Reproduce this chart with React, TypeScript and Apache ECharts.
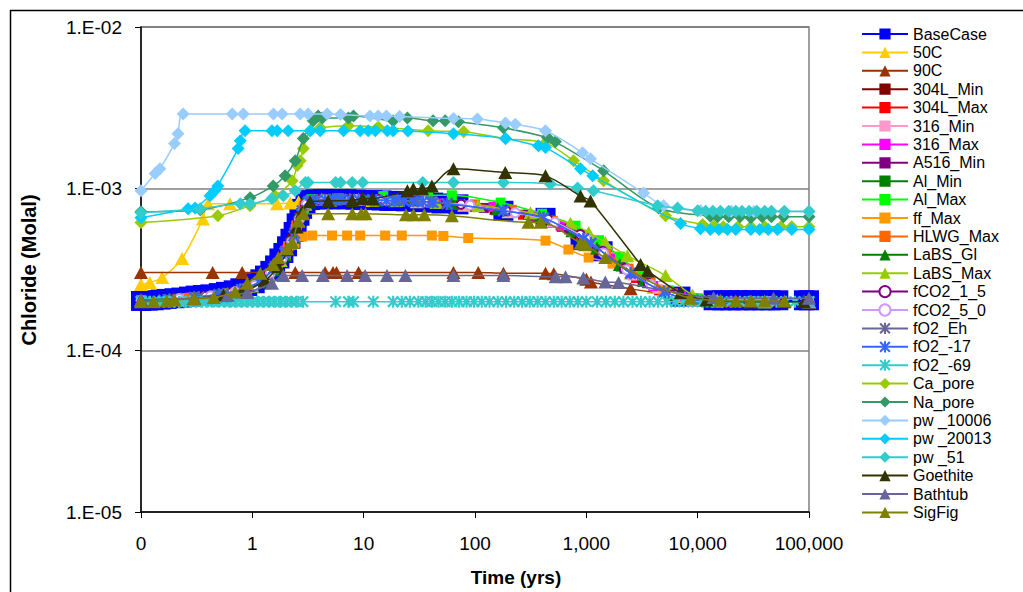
import React, { useEffect, useRef } from 'react';
import * as echarts from 'echarts';

type Pt = [number, number];

const xTickLabels = ['0', '1', '10', '100', '1,000', '10,000', '100,000'];
const yTickLabels = ['1.E-05', '1.E-04', '1.E-03', '1.E-02'];

const seriesNames = [
  'BaseCase', '50C', '90C', '304L_Min', '304L_Max', '316_Min', '316_Max', 'A516_Min',
  'Al_Min', 'Al_Max', 'ff_Max', 'HLWG_Max', 'LaBS_Gl', 'LaBS_Max', 'fCO2_1_5', 'fCO2_5_0',
  'fO2_Eh', 'fO2_-17', 'fO2_-69', 'Ca_pore', 'Na_pore', 'pw _10006', 'pw _20013', 'pw _51',
  'Goethite', 'Bathtub', 'SigFig',
];

const baseCase: Pt[] = [
  [0.1, 2.02e-4], [0.115, 2.03e-4], [0.13, 2.04e-4], [0.15, 2.06e-4], [0.17, 2.08e-4], [0.2, 2.1e-4],
  [0.23, 2.12e-4], [0.27, 2.15e-4], [0.31, 2.18e-4], [0.36, 2.2e-4], [0.42, 2.22e-4], [0.5, 2.26e-4],
  [0.58, 2.3e-4], [0.68, 2.35e-4], [0.78, 2.42e-4], [0.9, 2.5e-4], [1.05, 2.6e-4], [1.18, 2.75e-4],
  [1.3, 2.9e-4], [1.45, 3.1e-4], [1.6, 3.35e-4], [1.75, 3.7e-4], [1.9, 4.0e-4], [2.05, 4.4e-4],
  [2.2, 4.9e-4], [2.35, 5.4e-4], [2.5, 6.1e-4], [2.65, 6.8e-4], [2.8, 7.5e-4], [3.0, 8.1e-4],
  [3.3, 8.5e-4], [3.7, 8.6e-4], [4.3, 8.6e-4], [5, 8.6e-4], [6, 8.6e-4], [7, 8.6e-4], [8.5, 8.55e-4],
  [10, 8.5e-4], [12, 8.5e-4], [14.5, 8.45e-4], [17, 8.4e-4], [20, 8.4e-4], [24, 8.35e-4], [29, 8.3e-4],
  [35, 8.25e-4], [42, 8.2e-4], [50, 8.1e-4], [71, 8.0e-4], [180, 7.3e-4], [430, 6.6e-4], [887, 4.8e-4],
  [1400, 4.1e-4], [7000, 2.15e-4], [13900, 2.04e-4], [16500, 2.04e-4], [19500, 2.04e-4], [23000, 2.04e-4],
  [27000, 2.04e-4], [32000, 2.04e-4], [38000, 2.04e-4], [45000, 2.04e-4], [53000, 2.04e-4],
  [90000, 2.04e-4], [100000, 2.04e-4],
];

const c50: Pt[] = [
  [0.1, 2.55e-4], [0.12, 2.63e-4], [0.155, 2.82e-4], [0.234, 3.7e-4], [0.36, 6.5e-4], [0.4, 8.07e-4],
  [0.63, 8.07e-4], [1.67, 8.07e-4], [2.19, 8.15e-4], [2.6, 8.3e-4], [5, 8.5e-4], [12, 8.45e-4],
  [30, 8.3e-4], [80, 7.9e-4], [200, 7.2e-4], [500, 6.3e-4], [1000, 4.9e-4], [1600, 3.8e-4],
  [2500, 3.0e-4], [4000, 2.45e-4], [7000, 2.15e-4], [15000, 2.02e-4], [40000, 2.0e-4], [100000, 2.0e-4],
];

const c90: Pt[] = [
  [0.1, 3.03e-4], [0.44, 3.03e-4], [0.81, 3.03e-4], [2.43, 3.03e-4], [4.5, 3.03e-4], [5.3, 3.03e-4],
  [5.7, 3.03e-4], [9, 3.03e-4], [64, 3.03e-4], [107, 3.03e-4], [180, 3.0e-4], [430, 3.0e-4],
  [510, 2.98e-4], [1000, 2.75e-4], [1100, 2.65e-4], [2500, 2.4e-4], [5700, 2.2e-4], [10000, 2.05e-4],
  [30000, 2.0e-4], [100000, 2.0e-4],
];

const s304LMin: Pt[] = [
  [0.1, 2.02e-4], [0.25, 2.1e-4], [0.5, 2.2e-4], [0.8, 2.35e-4], [1.1, 2.6e-4], [1.5, 3.1e-4],
  [1.9, 3.8e-4], [2.3, 4.9e-4], [2.7, 6.8e-4], [3.2, 8.3e-4], [6, 8.6e-4], [12, 8.5e-4], [25, 8.4e-4],
  [60, 8.0e-4], [150, 7.4e-4], [350, 6.7e-4], [800, 5.2e-4], [1300, 4.1e-4], [1950, 3.5e-4],
  [3000, 2.8e-4], [5000, 2.3e-4], [9000, 2.1e-4], [20000, 2.0e-4], [50000, 2.0e-4], [100000, 2.0e-4],
];

const s304LMax: Pt[] = [
  [0.1, 2.05e-4], [0.3, 2.12e-4], [0.6, 2.25e-4], [1.0, 2.5e-4], [1.4, 2.95e-4], [1.8, 3.6e-4],
  [2.2, 4.6e-4], [2.6, 6.3e-4], [3.0, 8.0e-4], [4, 8.6e-4], [8, 8.6e-4], [18, 8.45e-4], [40, 8.2e-4],
  [100, 7.7e-4], [270, 6.9e-4], [600, 5.8e-4], [1100, 4.6e-4], [1800, 3.6e-4], [2800, 2.8e-4],
  [4500, 2.35e-4], [8000, 2.1e-4], [25000, 2.0e-4], [100000, 2.0e-4],
];

const s316Min: Pt[] = [
  [0.1, 2.03e-4], [0.22, 2.08e-4], [0.45, 2.18e-4], [0.75, 2.32e-4], [1.15, 2.65e-4], [1.6, 3.25e-4],
  [2.0, 4.1e-4], [2.45, 5.6e-4], [2.85, 7.4e-4], [3.5, 8.5e-4], [7, 8.6e-4], [15, 8.5e-4], [35, 8.25e-4],
  [80, 7.85e-4], [200, 7.2e-4], [500, 6.2e-4], [1000, 4.8e-4], [1600, 3.8e-4], [2600, 2.9e-4],
  [4360, 2.4e-4], [7000, 2.15e-4], [15000, 2.0e-4], [40000, 2.0e-4], [100000, 2.0e-4],
];

const s316Max: Pt[] = [
  [0.1, 2.04e-4], [0.28, 2.12e-4], [0.55, 2.22e-4], [0.9, 2.42e-4], [1.25, 2.75e-4], [1.65, 3.35e-4],
  [2.05, 4.2e-4], [2.5, 5.9e-4], [2.9, 7.6e-4], [3.6, 8.5e-4], [9, 8.6e-4], [20, 8.4e-4], [50, 8.1e-4],
  [147, 7.7e-4], [350, 6.8e-4], [587, 5.9e-4], [1100, 4.7e-4], [1700, 3.7e-4], [2500, 3.0e-4],
  [4000, 2.5e-4], [7000, 2.15e-4], [20000, 2.0e-4], [100000, 2.0e-4],
];

const a516Min: Pt[] = [
  [0.1, 2.02e-4], [0.32, 2.13e-4], [0.65, 2.27e-4], [1.0, 2.48e-4], [1.35, 2.85e-4], [1.75, 3.5e-4],
  [2.15, 4.4e-4], [2.55, 6.0e-4], [2.95, 7.8e-4], [4.5, 8.6e-4], [10, 8.55e-4], [22, 8.4e-4],
  [55, 8.05e-4], [120, 7.6e-4], [300, 6.9e-4], [700, 5.6e-4], [1200, 4.4e-4], [2040, 3.3e-4],
  [3200, 2.7e-4], [5500, 2.25e-4], [10000, 2.05e-4], [30000, 2.0e-4], [100000, 2.0e-4],
];

const alMin: Pt[] = [
  [0.1, 2.03e-4], [0.2, 2.08e-4], [0.4, 2.17e-4], [0.7, 2.3e-4], [1.05, 2.55e-4], [1.45, 3.0e-4],
  [1.85, 3.7e-4], [2.25, 4.7e-4], [2.65, 6.6e-4], [3.1, 8.2e-4], [5, 8.6e-4], [11, 8.5e-4], [28, 8.4e-4],
  [70, 8.0e-4], [210, 7.3e-4], [480, 6.4e-4], [900, 5.0e-4], [1400, 4.1e-4], [2200, 3.2e-4],
  [3500, 2.6e-4], [6000, 2.2e-4], [12000, 2.02e-4], [35000, 2.0e-4], [100000, 2.0e-4],
];

const alMax: Pt[] = [
  [0.1, 2.05e-4], [0.3, 2.12e-4], [0.6, 2.25e-4], [0.95, 2.45e-4], [1.3, 2.85e-4], [1.7, 3.45e-4],
  [2.1, 4.4e-4], [2.5, 5.9e-4], [2.9, 7.6e-4], [3.4, 8.6e-4], [6, 8.7e-4], [15, 9.0e-4], [38, 9.1e-4],
  [62, 9.1e-4], [170, 8.2e-4], [400, 7.0e-4], [800, 5.9e-4], [1300, 4.8e-4], [2000, 3.8e-4],
  [3200, 2.9e-4], [5500, 2.35e-4], [10000, 2.1e-4], [30000, 2.0e-4], [100000, 2.0e-4],
];

const ffMax: Pt[] = [
  [0.1, 2.03e-4], [0.25, 2.1e-4], [0.5, 2.2e-4], [0.85, 2.37e-4], [1.2, 2.7e-4], [1.6, 3.25e-4],
  [2.0, 3.9e-4], [2.4, 4.6e-4], [2.8, 5.05e-4], [3.45, 5.13e-4], [5.2, 5.13e-4], [7.1, 5.13e-4],
  [9.3, 5.13e-4], [15.6, 5.13e-4], [22, 5.13e-4], [41, 5.13e-4], [52, 5.1e-4], [87, 4.95e-4],
  [430, 4.77e-4], [690, 4.2e-4], [1050, 3.75e-4], [1720, 3.44e-4], [4940, 2.34e-4], [10000, 2.05e-4],
  [30000, 2.0e-4], [100000, 2.0e-4],
];

const hlwgMax: Pt[] = [
  [0.1, 2.04e-4], [0.27, 2.11e-4], [0.55, 2.22e-4], [0.9, 2.4e-4], [1.3, 2.85e-4], [1.7, 3.45e-4],
  [2.1, 4.35e-4], [2.5, 5.9e-4], [2.9, 7.7e-4], [3.4, 8.5e-4], [7, 8.6e-4], [16, 8.45e-4], [40, 8.2e-4],
  [100, 8.0e-4], [214, 7.4e-4], [500, 6.3e-4], [900, 5.2e-4], [1500, 4.0e-4], [2400, 3.2e-4],
  [3780, 2.7e-4], [6000, 2.25e-4], [12000, 2.05e-4], [35000, 2.0e-4], [100000, 2.0e-4],
];

const labsGl: Pt[] = [
  [0.1, 2.03e-4], [0.23, 2.09e-4], [0.48, 2.2e-4], [0.8, 2.35e-4], [1.15, 2.65e-4], [1.55, 3.15e-4],
  [1.95, 3.9e-4], [2.35, 5.0e-4], [2.75, 7.0e-4], [3.2, 8.3e-4], [5.5, 8.6e-4], [13, 8.5e-4],
  [19, 8.4e-4], [62, 8.1e-4], [160, 7.5e-4], [380, 6.7e-4], [750, 5.5e-4], [1250, 4.3e-4],
  [2000, 3.4e-4], [3300, 2.7e-4], [6000, 2.2e-4], [13000, 2.02e-4], [40000, 2.0e-4], [100000, 2.0e-4],
];

const labsMax: Pt[] = [
  [0.1, 2.05e-4], [0.3, 2.12e-4], [0.6, 2.25e-4], [1.0, 2.5e-4], [1.4, 2.95e-4], [1.8, 3.6e-4],
  [2.2, 4.6e-4], [2.6, 6.3e-4], [3.0, 8.0e-4], [4.2, 8.6e-4], [9, 8.6e-4], [20, 8.45e-4], [45, 8.2e-4],
  [107, 7.85e-4], [315, 7.1e-4], [720, 6.1e-4], [1050, 5.35e-4], [1480, 4.65e-4], [2330, 3.85e-4],
  [5150, 2.9e-4], [9000, 2.2e-4], [15000, 2.05e-4], [40000, 2.0e-4], [100000, 2.0e-4],
];

const fco2_15: Pt[] = [
  [0.1, 2.03e-4], [0.2, 2.08e-4], [0.38, 2.16e-4], [0.65, 2.28e-4], [1.0, 2.48e-4], [1.4, 2.95e-4],
  [1.8, 3.6e-4], [2.2, 4.55e-4], [2.6, 6.2e-4], [3.0, 7.9e-4], [3.9, 8.5e-4], [7.3, 8.55e-4],
  [13.5, 8.6e-4], [30, 8.4e-4], [75, 8.0e-4], [190, 7.3e-4], [450, 6.5e-4], [880, 5.2e-4],
  [1400, 4.1e-4], [2200, 3.2e-4], [3600, 2.6e-4], [6000, 2.2e-4], [12000, 2.02e-4], [40000, 2.0e-4],
  [100000, 2.0e-4],
];

const fco2_50: Pt[] = [
  [0.1, 2.03e-4], [0.22, 2.09e-4], [0.42, 2.17e-4], [0.7, 2.3e-4], [1.05, 2.52e-4], [1.45, 3.0e-4],
  [1.85, 3.7e-4], [2.25, 4.7e-4], [2.65, 6.5e-4], [3.05, 8.0e-4], [4.5, 8.55e-4], [8.5, 8.55e-4],
  [16, 8.5e-4], [35, 8.3e-4], [90, 7.9e-4], [230, 7.1e-4], [520, 6.2e-4], [1000, 4.9e-4],
  [1430, 4.0e-4], [2300, 3.15e-4], [3800, 2.55e-4], [6500, 2.15e-4], [14000, 2.02e-4], [45000, 2.0e-4],
  [100000, 2.0e-4],
];

const fo2Eh: Pt[] = [
  [0.1, 2.02e-4], [0.18, 2.06e-4], [0.33, 2.14e-4], [0.55, 2.24e-4], [0.85, 2.4e-4], [1.2, 2.7e-4],
  [1.6, 3.3e-4], [2.0, 4.1e-4], [2.4, 5.3e-4], [2.8, 7.3e-4], [3.3, 8.4e-4], [6, 8.6e-4], [11, 8.5e-4],
  [20, 8.45e-4], [30, 8.35e-4], [40, 8.3e-4], [56, 8.07e-4], [180, 7.3e-4], [412, 6.6e-4],
  [944, 4.9e-4], [1100, 4.6e-4], [2500, 3.0e-4], [5000, 2.3e-4], [10000, 2.03e-4], [30000, 2.0e-4],
  [100000, 2.0e-4],
];

const fo2m17: Pt[] = [
  [0.1, 2.02e-4], [0.16, 2.05e-4], [0.3, 2.13e-4], [0.5, 2.22e-4], [0.8, 2.38e-4], [1.15, 2.65e-4],
  [1.55, 3.2e-4], [1.95, 4.0e-4], [2.35, 5.1e-4], [2.75, 7.0e-4], [3.2, 8.3e-4], [3.8, 8.5e-4],
  [4.5, 8.55e-4], [5.3, 8.6e-4], [6.3, 8.6e-4], [7.5, 8.6e-4], [9, 8.55e-4], [11, 8.5e-4], [13, 8.5e-4],
  [16, 8.45e-4], [19, 8.4e-4], [23, 8.4e-4], [28, 8.35e-4], [34, 8.3e-4], [42, 8.2e-4], [56, 8.07e-4],
  [180, 7.3e-4], [412, 6.6e-4], [940, 4.9e-4], [1100, 4.6e-4], [2500, 3.0e-4], [5000, 2.3e-4],
  [10000, 2.03e-4], [30000, 2.0e-4], [100000, 2.0e-4],
];

const fo2m69: Pt[] = [
  [0.1, 2.0e-4], [0.11, 2.0e-4], [0.12, 2.0e-4], [0.13, 2.0e-4], [0.145, 2.0e-4], [0.16, 2.0e-4],
  [0.18, 2.0e-4], [0.2, 2.0e-4], [0.22, 2.0e-4], [0.25, 2.0e-4], [0.28, 2.0e-4], [0.31, 2.0e-4],
  [0.35, 2.0e-4], [0.39, 2.0e-4], [0.44, 2.0e-4], [0.5, 2.0e-4], [0.56, 2.0e-4], [0.63, 2.0e-4],
  [0.71, 2.0e-4], [0.8, 2.0e-4], [0.9, 2.0e-4], [1.0, 2.0e-4], [1.12, 2.0e-4], [1.26, 2.0e-4],
  [1.41, 2.0e-4], [1.58, 2.0e-4], [1.78, 2.0e-4], [2.0, 2.0e-4], [2.25, 2.0e-4], [2.5, 2.0e-4],
  [2.85, 2.0e-4], [5.6, 2.0e-4], [7.3, 2.0e-4], [8.1, 2.0e-4], [12.2, 2.0e-4], [18.4, 2.0e-4],
  [22, 2.0e-4], [26, 2.0e-4], [31, 2.0e-4], [36, 2.0e-4], [41, 2.0e-4], [47, 2.0e-4], [54, 2.0e-4],
  [62, 2.0e-4], [72, 2.0e-4], [84, 2.0e-4], [98, 2.0e-4], [115, 2.0e-4], [135, 2.0e-4], [160, 2.0e-4],
  [190, 2.0e-4], [225, 2.0e-4], [265, 2.0e-4], [310, 2.0e-4], [365, 2.0e-4], [430, 2.0e-4],
  [510, 2.0e-4], [600, 2.0e-4], [710, 2.0e-4], [840, 2.0e-4], [1000, 2.0e-4], [1250, 2.0e-4],
  [1500, 2.0e-4], [1800, 2.0e-4], [2150, 2.0e-4], [2600, 2.0e-4], [3100, 2.0e-4], [3700, 2.0e-4],
  [4400, 2.0e-4], [5300, 2.0e-4], [6300, 2.0e-4], [7500, 2.0e-4], [9000, 2.0e-4], [11000, 2.0e-4],
  [13500, 2.0e-4], [16500, 2.0e-4], [20000, 2.0e-4], [24000, 2.0e-4], [29000, 2.0e-4], [35000, 2.0e-4],
  [42000, 2.0e-4], [51000, 2.0e-4], [62000, 2.0e-4], [75000, 2.0e-4], [90000, 2.0e-4], [100000, 2.0e-4],
];

const caPore: Pt[] = [
  [0.1, 6.17e-4], [0.49, 6.8e-4], [0.955, 7.85e-4], [1.6, 9.05e-4], [2.28, 1.12e-3], [2.53, 1.39e-3],
  [2.69, 1.49e-3], [2.87, 1.77e-3], [3.31, 2.28e-3], [4.07, 2.38e-3], [7.3, 2.45e-3], [13.5, 2.41e-3],
  [38, 2.28e-3], [79, 2.25e-3], [188, 2.04e-3], [430, 1.92e-3], [768, 1.49e-3], [1430, 1.12e-3],
  [5150, 6.8e-4], [11100, 6.0e-4], [14000, 5.85e-4], [17000, 5.82e-4], [23000, 5.82e-4],
  [30000, 5.82e-4], [40000, 5.82e-4], [55800, 5.82e-4], [70000, 5.82e-4], [100000, 5.82e-4],
];

const naPore: Pt[] = [
  [0.1, 7.2e-4], [0.34, 7.4e-4], [0.955, 8.8e-4], [1.54, 1.04e-3], [1.97, 1.2e-3], [2.43, 1.49e-3],
  [2.87, 2.04e-3], [3.52, 2.63e-3], [3.9, 2.82e-3], [4.25, 2.74e-3], [7.3, 2.74e-3], [8.1, 2.82e-3],
  [18.4, 2.63e-3], [24.7, 2.74e-3], [42, 2.63e-3], [54, 2.63e-3], [71, 2.59e-3], [180, 2.38e-3],
  [448, 2.07e-3], [528, 1.95e-3], [1430, 1.29e-3], [4460, 7.6e-4], [13000, 6.75e-4], [15100, 6.7e-4],
  [19000, 6.7e-4], [24000, 6.7e-4], [30000, 6.6e-4], [38000, 6.7e-4], [46000, 6.7e-4],
  [59000, 6.7e-4], [100000, 6.7e-4],
];

const pw10006: Pt[] = [
  [0.1, 9.7e-4], [0.134, 1.24e-3], [0.148, 1.33e-3], [0.2, 1.9e-3], [0.215, 2.19e-3], [0.239, 2.9e-3],
  [0.66, 2.9e-3], [0.83, 2.9e-3], [1.55, 2.9e-3], [1.85, 2.9e-3], [2.69, 2.9e-3], [3.17, 2.9e-3],
  [4.7, 2.9e-3], [6.2, 2.88e-3], [11.4, 2.82e-3], [13.5, 2.82e-3], [16, 2.82e-3], [21, 2.8e-3],
  [64, 2.72e-3], [105, 2.7e-3], [188, 2.55e-3], [230, 2.5e-3], [430, 2.28e-3], [925, 1.67e-3],
  [1090, 1.53e-3], [3270, 9.4e-4], [4940, 7.85e-4], [10600, 7.3e-4], [20000, 7.25e-4],
  [32000, 7.22e-4], [60000, 7.2e-4], [100000, 7.2e-4],
];

const pw20013: Pt[] = [
  [0.1, 6.6e-4], [0.265, 7.5e-4], [0.306, 7.6e-4], [0.417, 9.05e-4], [0.46, 9.7e-4], [0.49, 1.04e-3],
  [0.745, 1.77e-3], [0.78, 1.98e-3], [0.86, 2.28e-3], [1.5, 2.28e-3], [1.67, 2.28e-3], [2.1, 2.28e-3],
  [3.31, 2.28e-3], [4.07, 2.28e-3], [6.6, 2.28e-3], [9.3, 2.28e-3], [11, 2.28e-3], [12.7, 2.28e-3],
  [16.3, 2.28e-3], [18.4, 2.28e-3], [25, 2.27e-3], [64, 2.19e-3], [188, 2.04e-3], [371, 1.84e-3],
  [430, 1.8e-3], [887, 1.33e-3], [1140, 1.2e-3], [7030, 6.08e-4], [10600, 5.66e-4], [13000, 5.6e-4],
  [15500, 5.6e-4], [18500, 5.6e-4], [22000, 5.6e-4], [30000, 5.6e-4], [36000, 5.6e-4],
  [43000, 5.6e-4], [52000, 5.6e-4], [70000, 5.6e-4], [100000, 5.6e-4],
];

const pw51: Pt[] = [
  [0.1, 7.1e-4], [0.34, 7.5e-4], [0.78, 8.07e-4], [0.955, 8.07e-4], [1.5, 8.7e-4], [1.9, 9.05e-4],
  [2.43, 9.7e-4], [3.0, 1.09e-3], [3.17, 1.09e-3], [5.6, 1.09e-3], [6.2, 1.09e-3], [7.9, 1.09e-3],
  [9.8, 1.09e-3], [34, 1.09e-3], [64, 1.09e-3], [180, 1.09e-3], [476, 1.07e-3], [834, 1.01e-3],
  [1160, 9.7e-4], [4370, 7.85e-4], [6600, 7.6e-4], [10000, 7.3e-4], [11800, 7.25e-4],
  [13700, 7.25e-4], [16000, 7.25e-4], [19000, 7.25e-4], [22000, 7.25e-4], [25000, 7.25e-4],
  [29000, 7.25e-4], [34000, 7.25e-4], [40000, 7.25e-4], [46000, 7.25e-4], [60000, 7.25e-4],
  [100000, 7.25e-4],
];

const goethite: Pt[] = [
  [0.1, 2.05e-4], [0.3, 2.1e-4], [0.55, 2.2e-4], [0.8, 2.3e-4], [1.3, 2.7e-4], [1.7, 3.3e-4],
  [2.1, 4.2e-4], [2.5, 5.8e-4], [2.8, 7.2e-4], [3.3, 8.3e-4], [4.8, 8.4e-4], [7.9, 8.45e-4],
  [9.8, 8.7e-4], [12, 8.7e-4], [24.7, 9.7e-4], [27.9, 1.0e-3], [33.5, 1.0e-3], [41, 1.04e-3],
  [64, 1.33e-3], [187, 1.26e-3], [430, 1.2e-3], [887, 9.0e-4], [1090, 8.4e-4], [3070, 3.4e-4],
  [3550, 3.1e-4], [7030, 2.27e-4], [12000, 2.05e-4], [30000, 2.0e-4], [60000, 2.0e-4],
  [90000, 2.0e-4],
];

const bathtub: Pt[] = [
  [0.1, 2.05e-4], [0.3, 2.1e-4], [0.6, 2.18e-4], [0.9, 2.28e-4], [1.5, 2.6e-4], [1.9, 2.9e-4],
  [2.8, 2.9e-4], [4.3, 2.9e-4], [7.1, 2.9e-4], [10.3, 2.9e-4], [16.2, 2.9e-4], [23.7, 2.9e-4],
  [64, 2.9e-4], [180, 2.9e-4], [530, 2.85e-4], [650, 2.85e-4], [940, 2.8e-4], [1480, 2.65e-4],
  [1950, 2.63e-4], [13900, 2.12e-4], [48000, 2.1e-4], [100000, 2.1e-4],
];

const sigFig: Pt[] = [
  [0.1, 2.0e-4], [0.13, 2.0e-4], [0.17, 2.02e-4], [0.2, 2.05e-4], [0.3, 2.08e-4], [0.45, 2.12e-4],
  [0.7, 2.3e-4], [0.9, 2.6e-4], [1.18, 3.0e-4], [1.54, 3.4e-4], [1.71, 3.75e-4], [2.05, 4.25e-4],
  [2.28, 4.65e-4], [2.58, 6.3e-4], [2.87, 7.0e-4], [4.8, 7.0e-4], [7.9, 7.0e-4], [9.5, 7.0e-4],
  [10.4, 7.0e-4], [24, 6.9e-4], [28, 6.9e-4], [35, 6.9e-4], [62, 6.8e-4], [302, 6.2e-4],
  [390, 6.2e-4], [887, 4.6e-4], [975, 4.5e-4], [1480, 3.75e-4], [8600, 2.1e-4], [16000, 2.04e-4],
  [22000, 2.02e-4], [30000, 2.02e-4], [40000, 2.02e-4], [60000, 2.02e-4],
];

const seriesData: Pt[][] = [
  baseCase, c50, c90, s304LMin, s304LMax, s316Min, s316Max, a516Min, alMin, alMax, ffMax, hlwgMax,
  labsGl, labsMax, fco2_15, fco2_50, fo2Eh, fo2m17, fo2m69, caPore, naPore, pw10006, pw20013, pw51,
  goethite, bathtub, sigFig,
];

const STAR = 'path://M4.1,0 L5.9,0 L5.9,10 L4.1,10 Z M1.3,0 L10,8.7 L8.7,10 L0,1.3 Z M8.7,0 L10,1.3 L1.3,10 L0,8.7 Z';
const TRI = 'triangle';
const SQ = 'rect';
const DIA = 'diamond';
const CIR = 'emptyCircle';
const TRI_SIZE = [14, 13];

const styles: { color: string; symbol: string; size: number | number[] }[] = [
  { color: '#0000FF', symbol: SQ, size: 20 },
  { color: '#FFCC00', symbol: TRI, size: TRI_SIZE },
  { color: '#993300', symbol: TRI, size: TRI_SIZE },
  { color: '#800000', symbol: SQ, size: 10 },
  { color: '#FF0000', symbol: SQ, size: 10 },
  { color: '#FF99CC', symbol: SQ, size: 10 },
  { color: '#FF00FF', symbol: SQ, size: 10 },
  { color: '#800080', symbol: SQ, size: 10 },
  { color: '#008000', symbol: SQ, size: 10 },
  { color: '#00FF00', symbol: SQ, size: 10 },
  { color: '#FF9900', symbol: SQ, size: 10 },
  { color: '#FF6600', symbol: SQ, size: 10 },
  { color: '#008000', symbol: TRI, size: TRI_SIZE },
  { color: '#99CC00', symbol: TRI, size: TRI_SIZE },
  { color: '#800080', symbol: CIR, size: 9 },
  { color: '#CC99FF', symbol: CIR, size: 9 },
  { color: '#666699', symbol: STAR, size: 12 },
  { color: '#3366FF', symbol: STAR, size: 12 },
  { color: '#33CCCC', symbol: STAR, size: 12 },
  { color: '#99CC00', symbol: DIA, size: 13 },
  { color: '#339966', symbol: DIA, size: 13 },
  { color: '#99CCFF', symbol: DIA, size: 13 },
  { color: '#00CCFF', symbol: DIA, size: 13 },
  { color: '#33CCCC', symbol: DIA, size: 13 },
  { color: '#333300', symbol: TRI, size: TRI_SIZE },
  { color: '#666699', symbol: TRI, size: TRI_SIZE },
  { color: '#808000', symbol: TRI, size: TRI_SIZE },
];

const FONT = '"Liberation Sans", Arial, Helvetica, sans-serif';

export default function App() {
  const ref = useRef<HTMLDivElement>(null);

  useEffect(() => {
    if (!ref.current) return;
    const chart = echarts.init(ref.current, undefined, { renderer: 'svg' });
    const series = seriesNames.map((name, i) => {
      const st = styles[i];
      const empty = st.symbol === CIR;
      return {
        name,
        type: 'line',
        data: seriesData[i],
        smooth: 0.3,
        symbol: st.symbol,
        symbolSize: st.size,
        showSymbol: true,
        clip: false,
        z: 2 + i,
        lineStyle: { color: st.color, width: 1.5 },
        itemStyle: {
          color: st.color,
          borderColor: st.color,
          borderWidth: empty ? 2 : 0,
        },
        emphasis: { disabled: true },
      };
    });

    chart.setOption({
      animation: false,
      backgroundColor: '#ffffff',
      grid: {
        left: 141,
        top: 27,
        width: 668,
        height: 485,
        show: true,
        borderColor: '#808080',
        borderWidth: 1.5,
        backgroundColor: 'transparent',
      },
      xAxis: {
        type: 'log',
        logBase: 10,
        min: 0.1,
        max: 100000,
        axisLine: { show: true, onZero: false, lineStyle: { color: '#000', width: 1.5 } },
        axisTick: { show: true, length: 6, lineStyle: { color: '#000', width: 1 } },
        axisLabel: {
          fontSize: 19,
          fontFamily: FONT,
          color: '#000',
          margin: 22,
          formatter: (v: number) => xTickLabels[Math.round(Math.log10(v)) + 1] ?? '',
        },
        splitLine: { show: false },
        minorTick: { show: false },
      },
      yAxis: {
        type: 'log',
        logBase: 10,
        min: 1e-5,
        max: 1e-2,
        axisLine: { show: true, onZero: false, lineStyle: { color: '#000', width: 1.5 } },
        axisTick: { show: true, length: 6, lineStyle: { color: '#000', width: 1 } },
        axisLabel: {
          fontSize: 19,
          fontFamily: FONT,
          color: '#000',
          margin: 19,
          formatter: (v: number) => yTickLabels[Math.round(Math.log10(v)) + 5] ?? '',
        },
        splitLine: { show: true, lineStyle: { color: '#808080', width: 1.5 } },
        minorTick: { show: false },
      },
      legend: {
        orient: 'vertical',
        left: 861,
        top: 26,
        padding: 0,
        itemWidth: 46,
        itemHeight: 14,
        itemGap: 2.4,
        selectedMode: false,
        data: seriesNames,
        textStyle: { fontSize: 16, fontFamily: FONT, color: '#000' },
      },
      graphic: [
        {
          type: 'rect',
          silent: true,
          shape: { x: 10.5, y: 10.5, width: 1200, height: 800 },
          style: { fill: 'none', stroke: '#000', lineWidth: 1.5 },
        },
        {
          type: 'text',
          x: 29,
          y: 270,
          rotation: Math.PI / 2,
          silent: true,
          style: {
            text: 'Chloride (Molal)',
            font: `bold 20px ${FONT}`,
            fill: '#000',
            align: 'center',
            verticalAlign: 'middle',
          },
        },
        {
          type: 'text',
          x: 516,
          y: 577,
          silent: true,
          style: {
            text: 'Time (yrs)',
            font: `bold 19px ${FONT}`,
            fill: '#000',
            align: 'center',
            verticalAlign: 'middle',
          },
        },
      ],
      series,
    });

    return () => {
      chart.dispose();
    };
  }, []);

  return (
    <div
      ref={ref}
      style={{ position: 'absolute', left: 0, top: 0, width: 1023, height: 592, background: '#fff' }}
    />
  );
}
